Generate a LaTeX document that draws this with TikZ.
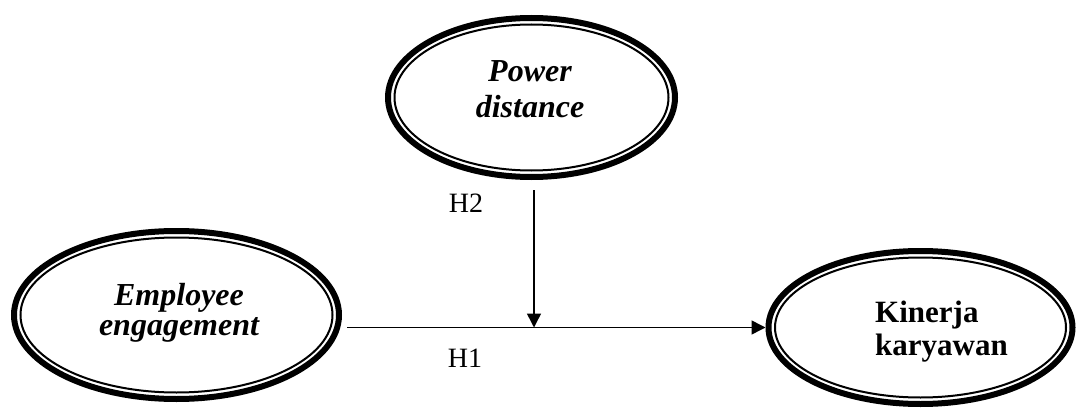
\documentclass[tikz,border=0pt]{standalone}
\usepackage{fontspec}
\setmainfont{Liberation Serif}
\usetikzlibrary{shapes.geometric,arrows.meta}
\begin{document}
\begin{tikzpicture}[x=1pt,y=-1pt,
  construct/.style={ellipse, draw, line width=6pt, inner sep=0pt},
  innerring/.style={line width=2pt},
  lbl/.style={align=center, inner sep=0pt},
  hyp/.style={font=\fontsize{28}{30}\selectfont, inner sep=0pt},
  arr/.style={line width=1.5pt, -{Triangle[length=14pt,width=14pt]}}]
\useasboundingbox (0,0) rectangle (1077,412);
% Power distance
\node[construct, minimum width=287pt, minimum height=159pt] (pd) at (531.5,97.5) {};
\draw[innerring] (pd.center) ellipse [x radius=137pt, y radius=73pt];
\node[lbl, font=\bfseries\itshape\fontsize{32}{36}\selectfont] (pdt) at (530,89) {Power\\distance};
% Employee engagement
\node[construct, minimum width=325pt, minimum height=168pt] (emp) at (176.5,315) {};
\draw[innerring] (emp.center) ellipse [x radius=156pt, y radius=77.5pt];
\node[lbl, font=\bfseries\itshape\fontsize{32}{30}\selectfont] (empt) at (179,312.5) {Employee\\engagement};
% Kinerja karyawan
\node[construct, minimum width=304pt, minimum height=153pt] (kin) at (920.5,327.5) {};
\draw[innerring] (kin.center) ellipse [x radius=145.5pt, y radius=70pt];
\node[lbl, align=left, anchor=west, font=\bfseries\fontsize{31}{33}\selectfont] (kint) at (875,332) {Kinerja\\karyawan};
% connectors
\coordinate (j) at ([xshift=2.5pt]pd.south |- kin.west);
\draw[arr, shorten <=5pt] (emp.east |- kin.west) -- (kin.west);
\draw[arr, shorten <=10pt] ([xshift=2.5pt]pd.south) -- (j);
% labels
\node[hyp] (h2) at (466,203) {H2};
\node[hyp] (h1) at (465,358) {H1};
\end{tikzpicture}
\end{document}
